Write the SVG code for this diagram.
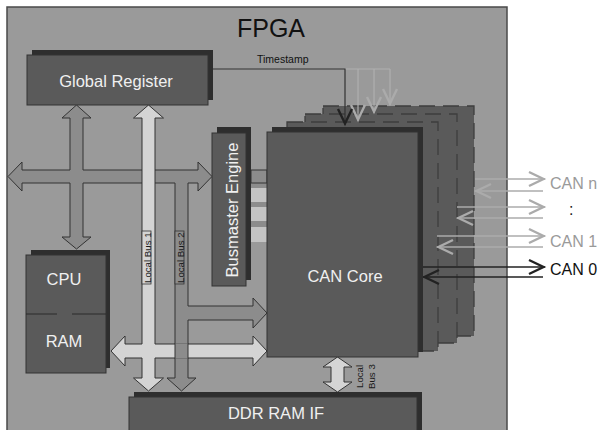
<svg xmlns="http://www.w3.org/2000/svg" width="602" height="430" viewBox="0 0 602 430">
<style>
.node{fill:#5a5a5a;stroke:#333;stroke-width:1}
.shadow{fill:#2e2e2e}
.layer{fill:#5a5a5a;stroke:#3e3e3e;stroke-width:1.3;stroke-dasharray:16 8}
.lbl{font-family:"Liberation Sans",Arial,sans-serif;fill:#f0f0f0;font-size:16.5px;text-anchor:middle}
.small{font-family:"Liberation Sans",Arial,sans-serif;fill:#1a1a1a;font-size:9.7px}
.can{font-family:"Liberation Sans",Arial,sans-serif;font-size:16px}
.med{fill:#8c8c8c;stroke:#333;stroke-width:1}
.light{fill:#d4d4d4;stroke:#333;stroke-width:1}
</style>
<defs>
<marker id="chevD" viewBox="-19 -10 21 20" markerWidth="21" markerHeight="20" refX="0" refY="0" orient="auto" markerUnits="userSpaceOnUse"><path d="M-16,-7 L-1.5,0 L-16,7" fill="none" stroke="#222" stroke-width="2.4"/></marker>
<marker id="chevL" viewBox="-19 -10 21 20" markerWidth="21" markerHeight="20" refX="0" refY="0" orient="auto" markerUnits="userSpaceOnUse"><path d="M-16,-7 L-1.5,0 L-16,7" fill="none" stroke="#ababab" stroke-width="2.4"/></marker>
</defs>
<rect width="602" height="430" fill="#fff"/>
<g id="fpga">
<rect x="7" y="7" width="500" height="440" fill="#9a9a9a" stroke="#4a4a4a" stroke-width="1.5"/>
<text x="271" y="37" font-family="'Liberation Sans',Arial,sans-serif" font-size="25" fill="#111" text-anchor="middle">FPGA</text>
</g>
<g id="can-layers">
<rect class="layer" x="323" y="106" width="151" height="230"/>
<rect class="layer" x="305" y="114" width="152" height="229"/>
<rect class="layer" x="287" y="122" width="151" height="229"/>
</g>
<g id="connectors">
<path d="M251,183 H267 V242 H251 Z" fill="#8c8c8c"/>
<rect x="251" y="170" width="16" height="13" class="med"/>
<rect x="251" y="188" width="16" height="14" fill="#c4c4c4"/>
<rect x="251" y="207" width="16" height="14" fill="#c4c4c4"/>
<rect x="251" y="227" width="16" height="15" fill="#c4c4c4"/>
<path class="med" d="M76.5,105 L91,118 L83,118 L83,170 L198,170 L198,162 L212,176.5 L198,191 L198,183 L188,183 L188,306 L253,306 L253,298 L267,313 L253,328 L253,320 L188,320 L188,378 L196,378 L181.5,391 L167,378 L175,378 L175,183 L83,183 L83,237 L91,237 L76.5,249 L62,237 L70,237 L70,183 L22,183 L22,191 L8,176.5 L22,162 L22,170 L70,170 L70,118 L62,118 Z"/>
<path class="light" d="M148.5,105 L163.5,118 L155,118 L155,344 L253,344 L253,336 L267,351 L253,366 L253,358 L155,358 L155,378 L163.5,378 L148.5,391 L133.5,378 L142,378 L142,358 L125,358 L125,366 L111,351 L125,336 L125,344 L142,344 L142,118 L133.5,118 Z"/>
<rect x="175" y="343.5" width="13" height="15" fill="#8c8c8c"/>
<path d="M175,343.5 V358.5 M188,343.5 V358.5" stroke="#333" stroke-width="1"/>
<rect x="142" y="231" width="9" height="53" fill="#d4d4d4" stroke="#333" stroke-width="0.8"/>
<text class="small" transform="translate(150.5,283) rotate(-90)">Local Bus 1</text>
<rect x="175" y="231" width="9" height="53" fill="#8c8c8c" stroke="#333" stroke-width="0.8"/>
<text class="small" transform="translate(183.5,283) rotate(-90)">Local Bus 2</text>
<path class="light" d="M337.5,357 L352,367 L344,367 L344,382 L352,382 L337.5,392 L323,382 L331,382 L331,367 L323,367 Z"/>
<text class="small" transform="translate(363,388) rotate(-90)">Local</text>
<text class="small" transform="translate(375,389) rotate(-90)">Bus 3</text>
<polyline points="345,69 390,69" fill="none" stroke="#b0b0b0" stroke-width="1.2"/>
<line x1="390" y1="69" x2="390" y2="105" stroke="#b0b0b0" stroke-width="1.2" marker-end="url(#chevL)"/>
<line x1="374" y1="69" x2="374" y2="113" stroke="#b0b0b0" stroke-width="1.2" marker-end="url(#chevL)"/>
<line x1="358" y1="69" x2="358" y2="121" stroke="#b0b0b0" stroke-width="1.2" marker-end="url(#chevL)"/>
<polyline points="208,69 345,69 345,125" fill="none" stroke="#333" stroke-width="1.2" marker-end="url(#chevD)"/>
<text x="257" y="62.5" font-family="'Liberation Sans',Arial,sans-serif" font-size="10.5" fill="#111">Timestamp</text>
<line x1="475" y1="179" x2="545" y2="179" stroke="#ababab" stroke-width="1.3" marker-end="url(#chevL)"/>
<line x1="543" y1="191" x2="475" y2="191" stroke="#ababab" stroke-width="1.3" marker-end="url(#chevL)"/>
<line x1="457" y1="207" x2="545" y2="207" stroke="#ababab" stroke-width="1.3" marker-end="url(#chevL)"/>
<line x1="543" y1="218" x2="457" y2="218" stroke="#ababab" stroke-width="1.3" marker-end="url(#chevL)"/>
<line x1="437" y1="236" x2="545" y2="236" stroke="#ababab" stroke-width="1.3" marker-end="url(#chevL)"/>
<line x1="543" y1="247" x2="437" y2="247" stroke="#ababab" stroke-width="1.3" marker-end="url(#chevL)"/>
<line x1="423" y1="267" x2="545" y2="267" stroke="#222" stroke-width="1.3" marker-end="url(#chevD)"/>
<line x1="543" y1="277" x2="423" y2="277" stroke="#222" stroke-width="1.3" marker-end="url(#chevD)"/>
</g>
<g id="global-register">
<rect class="shadow" x="32" y="50" width="181" height="50"/>
<rect class="node" x="27" y="55" width="181" height="50"/>
<text class="lbl" x="116" y="87">Global Register</text>
</g>
<g id="busmaster-engine">
<rect class="shadow" x="217" y="127" width="34" height="153"/>
<rect class="node" x="212" y="133" width="34" height="153"/>
<text class="lbl" transform="translate(238,210) rotate(-90)">Busmaster Engine</text>
</g>
<g id="can-core">
<rect class="shadow" x="272" y="127" width="151" height="225"/>
<rect class="node" x="267" y="132" width="151" height="225"/>
<text class="lbl" x="345" y="282">CAN Core</text>
</g>
<g id="cpu-ram">
<rect class="shadow" x="31" y="250" width="79" height="118"/>
<rect class="node" x="26" y="255" width="80" height="118"/>
<path d="M26,314 H57 M72,314 H106" stroke="#2a2a2a" stroke-width="1.2"/>
<text class="lbl" x="64" y="285">CPU</text>
<text class="lbl" x="64" y="347">RAM</text>
</g>
<g id="ddr-ram-if">
<rect class="shadow" x="134" y="392" width="288" height="48"/>
<rect class="node" x="129" y="397" width="288" height="45"/>
<text class="lbl" x="276" y="419">DDR RAM IF</text>
</g>
<g id="can-labels">
<text class="can" x="550" y="189" fill="#9a9a9a">CAN n</text>
<text class="can" x="569" y="215" fill="#222">:</text>
<text class="can" x="550" y="247" fill="#9a9a9a">CAN 1</text>
<text class="can" x="550" y="275" fill="#111">CAN 0</text>
</g>
</svg>
